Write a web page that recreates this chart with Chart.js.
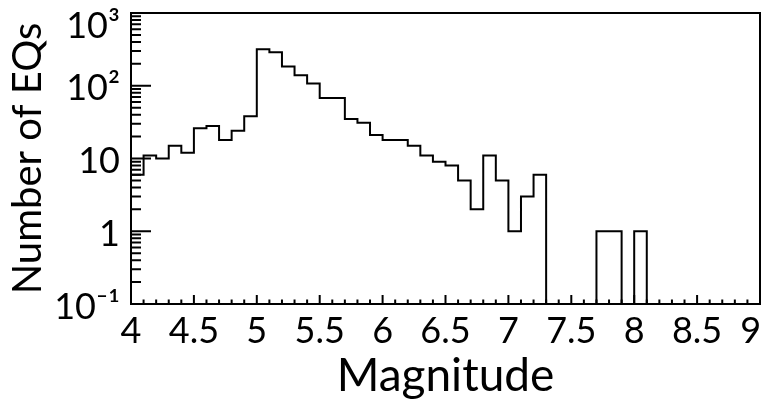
<!DOCTYPE html>
<html>
<head>
<meta charset="utf-8">
<script src="https://cdn.jsdelivr.net/npm/chart.js@4.4.1/dist/chart.umd.min.js"></script>
<style>
    html, body { margin: 0; padding: 0; background: #fff; }
    #wrap { width: 766px; height: 407px; }
</style>
</head>
<body>
<div id="wrap"><canvas id="histChart"></canvas></div>
<script>
//  EQ MAGNITUDE HISTOGRAM (log y, ROOT-like frame)
// ============================================================
const binStarts = [4.0, 4.1, 4.2, 4.3, 4.4, 4.5, 4.6, 4.7, 4.8, 4.9,
                   5.0, 5.1, 5.2, 5.3, 5.4, 5.5, 5.6, 5.7, 5.8, 5.9,
                   6.0, 6.1, 6.2, 6.3, 6.4, 6.5, 6.6, 6.7, 6.8, 6.9,
                   7.0, 7.1, 7.2, 7.3, 7.4, 7.5, 7.6, 7.7, 7.8, 7.9,
                   8.0, 8.1, 8.2, 8.3, 8.4, 8.5, 8.6, 8.7, 8.8, 8.9];
const eqCounts  = [6, 11, 10, 15, 12, 26, 28, 18, 24, 38,
                   318, 288, 184, 139, 107, 68, 68, 35, 31, 21,
                   18, 18, 15, 11, 9, 8, 5, 2, 11, 5,
                   1, 3, 6, 0, 0, 0, 0, 1, 1, 0,
                   1, 0, 0, 0, 0, 0, 0, 0, 0, 0];
const binWidth  = 0.1;
const xRange    = [4, 9];
const yRange    = [0.1, 1000];
const yTickText = { '-1': '10⁻¹', '0': '1', '1': '10', '2': '10²', '3': '10³' };

const FONT = 'Lato, "Open Sans", sans-serif';
const ZERO_FLOOR = 0.01;   // empty bins: below the axis minimum so the step drops onto the frame

function buildSteps() {
    const pts = binStarts.map(function (x, i) {
        return { x: x, y: eqCounts[i] > 0 ? eqCounts[i] : ZERO_FLOOR };
    });
    pts.push({ x: binStarts[binStarts.length - 1] + binWidth, y: pts[pts.length - 1].y });
    return pts;
}

function isHalf(v) { return Math.abs(v * 2 - Math.round(v * 2)) < 1e-6; }
function decade(v) { const l = Math.log10(v); return Math.abs(l - Math.round(l)) < 1e-9 ? Math.round(l) : null; }
function isTopTick(c) { return c.tick && c.tick.value >= yRange[1]; }

function xLabel(v) {
    if (!isHalf(v)) return '';
    const s = String(Math.round(v * 2) / 2);
    // last label is nudged left so it stays inside the canvas
    return v >= xRange[1] ? s + '\u00a0\u00a0' : s;
}

// inward ticks + full frame, the way ROOT draws it
const frameTicks = {
    id: 'frameTicks',
    afterDraw(chart) {
        const ctx = chart.ctx, a = chart.chartArea, x = chart.scales.x, y = chart.scales.y;
        ctx.save();
        ctx.strokeStyle = '#000';
        ctx.lineWidth = 2;
        ctx.beginPath();
        x.ticks.forEach(function (t) {
            const px = x.getPixelForValue(t.value);
            ctx.moveTo(px, a.bottom);
            ctx.lineTo(px, a.bottom - (isHalf(t.value) ? 9 : 4.5));
        });
        const e0 = Math.round(Math.log10(y.min)), e1 = Math.round(Math.log10(y.max));
        for (let e = e0; e < e1; e++) {
            for (let k = 1; k <= 9; k++) {
                const py = y.getPixelForValue(k * Math.pow(10, e));
                ctx.moveTo(a.left, py);
                ctx.lineTo(a.left + (k === 1 ? 20 : 10), py);
            }
        }
        ctx.stroke();
        ctx.strokeRect(a.left, a.top, a.right - a.left, a.bottom - a.top);
        ctx.restore();
    }
};

new Chart(document.getElementById('histChart'), {
    type: 'line',
    data: {
        datasets: [{
            data: buildSteps(),
            stepped: 'before',
            borderColor: '#000',
            borderWidth: 2,
            pointRadius: 0,
            fill: false
        }]
    },
    options: {
        responsive: true, maintainAspectRatio: false, animation: false,
        layout: { padding: { top: 13, right: 6, left: 0, bottom: 0 } },
        plugins: { legend: { display: false }, tooltip: { enabled: false } },
        scales: {
            x: {
                type: 'linear', min: xRange[0], max: xRange[1],
                grid: { display: false, drawTicks: false },
                border: { display: false },
                ticks: {
                    stepSize: binWidth, autoSkip: false, maxRotation: 0, padding: 6,
                    color: '#000', font: { family: FONT, size: 36 },
                    callback: xLabel
                },
                title: { display: true, text: 'Magnitude', color: '#000', font: { family: FONT, size: 46 }, padding: { top: 0, bottom: 3 } },
                afterFit: s => { s.height = 103; s.paddingLeft = 0; s.paddingRight = 0; }
            },
            y: {
                type: 'logarithmic', min: yRange[0], max: yRange[1],
                grid: { display: false, drawTicks: false },
                border: { display: false },
                ticks: {
                    autoSkip: false, padding: 11, labelOffset: 3,
                    color: '#000',
                    // top label sits below its tick (pushed down as a 2nd line)
                    font: c => ({ family: FONT, size: 36, lineHeight: isTopTick(c) ? '20px' : 1.2 }),
                    callback: v => {
                        const d = decade(v);
                        if (d === null) return '';
                        return v >= yRange[1] ? ['', yTickText[String(d)]] : yTickText[String(d)];
                    }
                },
                title: { display: true, text: 'Number of EQs', color: '#000', font: { family: FONT, size: 40 }, padding: 4 },
                afterFit: s => { s.width = 131; s.paddingTop = 0; s.paddingBottom = 0; }
            }
        }
    },
    plugins: [frameTicks]
});
</script>
</body>
</html>
